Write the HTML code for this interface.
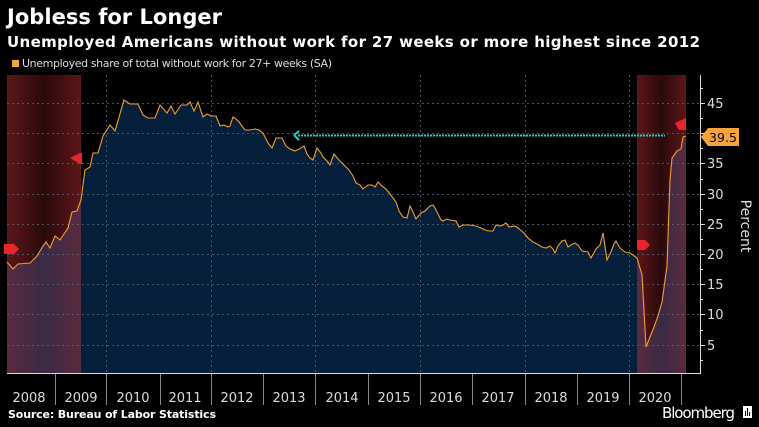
<!DOCTYPE html>
<html><head><meta charset="utf-8"><style>
html,body{margin:0;padding:0;background:#000;}
svg{display:block;}
text{font-family:"DejaVu Sans","Liberation Sans",sans-serif;}
</style></head><body>
<svg width="759" height="427" viewBox="0 0 759 427" xmlns="http://www.w3.org/2000/svg">
<defs>
<linearGradient id="rec" x1="0" x2="1" y1="0" y2="0">
<stop offset="0" stop-color="#5e1618"/><stop offset="0.5" stop-color="#2a0a0c"/><stop offset="1" stop-color="#5e1618"/>
</linearGradient>
<linearGradient id="recf" x1="0" x2="1" y1="0" y2="0">
<stop offset="0" stop-color="#5a2a3e"/><stop offset="0.5" stop-color="#3a2a44"/><stop offset="1" stop-color="#5a2a3e"/>
</linearGradient>
<clipPath id="area"><path id="ap" d="M7,373 L7,262 L13,269 L18,264 L30,263 L37,256 L43,246 L46,242 L50,248 L55,236 L60,240 L68,228 L72,212 L77,211 L81,200 L85,170 L90,167 L93,153 L98,153 L103,136 L110,125 L115,131 L124,100 L130,104 L138,104 L143,115 L148,118 L155,118 L160,105 L167,113 L171,106 L175,114 L181,105 L187,105 L190,102 L194,111 L198,102 L203,117 L207,114 L211,116 L216,116 L220,126 L224,125 L228,127 L230,126 L233,117 L236,119 L239,122 L245,130 L250,130 L255,129 L259,130 L263,133 L268,143 L272,148 L276,138 L282,138 L286,146 L290,149 L295,151 L299,149 L304,146 L307,154 L310,158 L313,160 L317,148 L321,153 L323,157 L327,161 L330,165 L334,154 L338,159 L341,162 L345,166 L349,170 L353,176 L356,183 L360,185 L363,189 L368,185 L372,185 L375,187 L378,182 L382,186 L386,189 L390,194 L393,198 L396,202 L399,211 L403,217 L407,218 L410,206 L413,212 L416,219 L421,213 L425,211 L430,206 L433,205 L435,208 L441,220 L443,221 L447,219 L450,220 L456,221 L459,227 L463,225 L470,225 L476,226 L481,228 L485,230 L489,231 L493,231 L496,225 L500,226 L503,225 L506,223 L509,227 L515,226 L518,228 L524,233 L528,238 L533,242 L537,244 L542,247 L546,248 L550,246 L553,249 L555,253 L558,246 L562,241 L565,240 L568,247 L571,245 L575,243 L578,245 L582,251 L588,252 L591,258 L596,249 L600,245 L603,233 L607,260 L611,252 L614,244 L616,241 L620,248 L625,252 L630,253 L633,255 L637,258 L642,275 L646,347 L650,337 L654,327 L658,316 L662,302 L667,266 L670,180 L672,158 L677,151 L681,149 L683,137 L686,136 L686,373 Z"/></clipPath>
</defs>
<rect x="7" y="75" width="74" height="298" fill="url(#rec)"/>
<rect x="637" y="75" width="49" height="298" fill="url(#rec)"/>
<use href="#ap" fill="#061f3b"/>
<g clip-path="url(#area)">
<rect x="7" y="75" width="74" height="298" fill="url(#recf)"/>
<rect x="637" y="75" width="49" height="298" fill="url(#recf)"/>
</g>
<g stroke="#5a6678" stroke-width="1" stroke-dasharray="2,3" opacity="0.8">
<line x1="7" x2="700" y1="103.5" y2="103.5"/><line x1="7" x2="700" y1="133.5" y2="133.5"/>
<line x1="7" x2="700" y1="163.5" y2="163.5"/><line x1="7" x2="700" y1="194.5" y2="194.5"/>
<line x1="7" x2="700" y1="224.5" y2="224.5"/><line x1="7" x2="700" y1="254.5" y2="254.5"/>
<line x1="7" x2="700" y1="284.5" y2="284.5"/><line x1="7" x2="700" y1="314.5" y2="314.5"/>
<line x1="7" x2="700" y1="345.5" y2="345.5"/>
<line x1="106.5" x2="106.5" y1="75" y2="373"/><line x1="211.5" x2="211.5" y1="75" y2="373"/>
<line x1="315.5" x2="315.5" y1="75" y2="373"/><line x1="420.5" x2="420.5" y1="75" y2="373"/>
<line x1="525.5" x2="525.5" y1="75" y2="373"/><line x1="629.5" x2="629.5" y1="75" y2="373"/>
</g>
<polyline fill="none" stroke="#f0a030" stroke-width="1.1" points="7,262 13,269 18,264 30,263 37,256 43,246 46,242 50,248 55,236 60,240 68,228 72,212 77,211 81,200 85,170 90,167 93,153 98,153 103,136 110,125 115,131 124,100 130,104 138,104 143,115 148,118 155,118 160,105 167,113 171,106 175,114 181,105 187,105 190,102 194,111 198,102 203,117 207,114 211,116 216,116 220,126 224,125 228,127 230,126 233,117 236,119 239,122 245,130 250,130 255,129 259,130 263,133 268,143 272,148 276,138 282,138 286,146 290,149 295,151 299,149 304,146 307,154 310,158 313,160 317,148 321,153 323,157 327,161 330,165 334,154 338,159 341,162 345,166 349,170 353,176 356,183 360,185 363,189 368,185 372,185 375,187 378,182 382,186 386,189 390,194 393,198 396,202 399,211 403,217 407,218 410,206 413,212 416,219 421,213 425,211 430,206 433,205 435,208 441,220 443,221 447,219 450,220 456,221 459,227 463,225 470,225 476,226 481,228 485,230 489,231 493,231 496,225 500,226 503,225 506,223 509,227 515,226 518,228 524,233 528,238 533,242 537,244 542,247 546,248 550,246 553,249 555,253 558,246 562,241 565,240 568,247 571,245 575,243 578,245 582,251 588,252 591,258 596,249 600,245 603,233 607,260 611,252 614,244 616,241 620,248 625,252 630,253 633,255 637,258 642,275 646,347 650,337 654,327 658,316 662,302 667,266 670,180 672,158 677,151 681,149 683,137 686,136"/>
<g fill="#e8242c">
<path d="M4,244 L14,244 L19,249 L14,254 L4,254 Z"/>
<path d="M70,158 L80,153 L82,153 L82,164 L80,164 Z"/>
<path d="M637,240 L645,240 L650,245 L645,250 L637,250 Z"/>
<path d="M675,123 L686,118 L686,130 L679,130 Z"/>
</g>
<line x1="298" x2="665" y1="135.5" y2="135.5" stroke="#2fc8c8" stroke-width="2" stroke-dasharray="2,1"/>
<path d="M294,135 L299,131 M294,135 L299,140" stroke="#2fc8c8" stroke-width="2"/>
<line x1="7" x2="701" y1="373.5" y2="373.5" stroke="#ddd" stroke-width="1"/>
<line x1="700.5" x2="700.5" y1="75" y2="374" stroke="#ddd" stroke-width="1"/>
<g stroke="#888" stroke-width="1">
<line x1="55.5" x2="55.5" y1="374" y2="405"/><line x1="106.5" x2="106.5" y1="374" y2="405"/><line x1="160.5" x2="160.5" y1="374" y2="405"/><line x1="211.5" x2="211.5" y1="374" y2="405"/><line x1="263.5" x2="263.5" y1="374" y2="405"/><line x1="315.5" x2="315.5" y1="374" y2="405"/><line x1="368.5" x2="368.5" y1="374" y2="405"/><line x1="420.5" x2="420.5" y1="374" y2="405"/><line x1="472.5" x2="472.5" y1="374" y2="405"/><line x1="525.5" x2="525.5" y1="374" y2="405"/><line x1="577.5" x2="577.5" y1="374" y2="405"/><line x1="629.5" x2="629.5" y1="374" y2="405"/><line x1="681.5" x2="681.5" y1="374" y2="405"/>
</g>
<g stroke="#ddd" stroke-width="1">
<line x1="700" x2="705" y1="103.5" y2="103.5"/><line x1="700" x2="705" y1="133.5" y2="133.5"/><line x1="700" x2="705" y1="163.5" y2="163.5"/><line x1="700" x2="705" y1="194.5" y2="194.5"/><line x1="700" x2="705" y1="224.5" y2="224.5"/><line x1="700" x2="705" y1="254.5" y2="254.5"/><line x1="700" x2="705" y1="284.5" y2="284.5"/><line x1="700" x2="705" y1="314.5" y2="314.5"/><line x1="700" x2="705" y1="345.5" y2="345.5"/>
<line x1="700" x2="703" y1="88.5" y2="88.5"/><line x1="700" x2="703" y1="118.5" y2="118.5"/><line x1="700" x2="703" y1="148.5" y2="148.5"/><line x1="700" x2="703" y1="179.5" y2="179.5"/><line x1="700" x2="703" y1="209.5" y2="209.5"/><line x1="700" x2="703" y1="239.5" y2="239.5"/><line x1="700" x2="703" y1="269.5" y2="269.5"/><line x1="700" x2="703" y1="299.5" y2="299.5"/><line x1="700" x2="703" y1="330.5" y2="330.5"/><line x1="700" x2="703" y1="360.5" y2="360.5"/>
</g>
<g fill="#ddd" font-size="13" font-family="Liberation Sans, sans-serif">
<text x="707" y="108">45</text><text x="707" y="168">35</text><text x="707" y="199">30</text><text x="707" y="229">25</text><text x="707" y="259">20</text><text x="707" y="289">15</text><text x="707" y="319">10</text><text x="707" y="350">5</text>
</g>
<path d="M701,137 L708,128 L739,128 L739,146 L708,146 Z" fill="#f6a33c"/>
<text x="709" y="142" font-size="12.5" fill="#000" font-family="Liberation Sans, sans-serif" textLength="28">39.5</text>
<text transform="translate(741,226) rotate(90)" font-size="14" fill="#ddd" text-anchor="middle" font-family="Liberation Sans, sans-serif">Percent</text>
<g fill="#ddd" font-size="13" text-anchor="middle" font-family="Liberation Sans, sans-serif">
<text x="29" y="402">2008</text><text x="81" y="402">2009</text><text x="133" y="402">2010</text><text x="185" y="402">2011</text><text x="237" y="402">2012</text><text x="289" y="402">2013</text><text x="342" y="402">2014</text><text x="394" y="402">2015</text><text x="446" y="402">2016</text><text x="498" y="402">2017</text><text x="551" y="402">2018</text><text x="603" y="402">2019</text><text x="655" y="402">2020</text>
</g>
<text x="7" y="24" font-size="21" font-weight="bold" fill="#fff" textLength="215">Jobless for Longer</text>
<text x="7" y="47" font-size="15" font-weight="bold" fill="#fff" textLength="693">Unemployed Americans without work for 27 weeks or more highest since 2012</text>
<rect x="12" y="60" width="7" height="7" fill="#f6a33c"/>
<text x="22" y="67" font-size="11" fill="#ddd" font-family="Liberation Sans, sans-serif" textLength="310">Unemployed share of total without work for 27+ weeks (SA)</text>
<text x="8" y="418" font-size="11" font-weight="bold" fill="#fff" textLength="208">Source: Bureau of Labor Statistics</text>
<text x="662" y="418" font-size="15" fill="#fff" font-family="Liberation Sans, sans-serif" textLength="73">Bloomberg</text>
<rect x="743" y="406" width="9" height="12" fill="#fff"/>
<g stroke="#000" stroke-width="1"><line x1="745.5" x2="745.5" y1="411" y2="416"/><line x1="747.5" x2="747.5" y1="408" y2="416"/><line x1="749.5" x2="749.5" y1="412" y2="416"/></g>
</svg>
</body></html>
